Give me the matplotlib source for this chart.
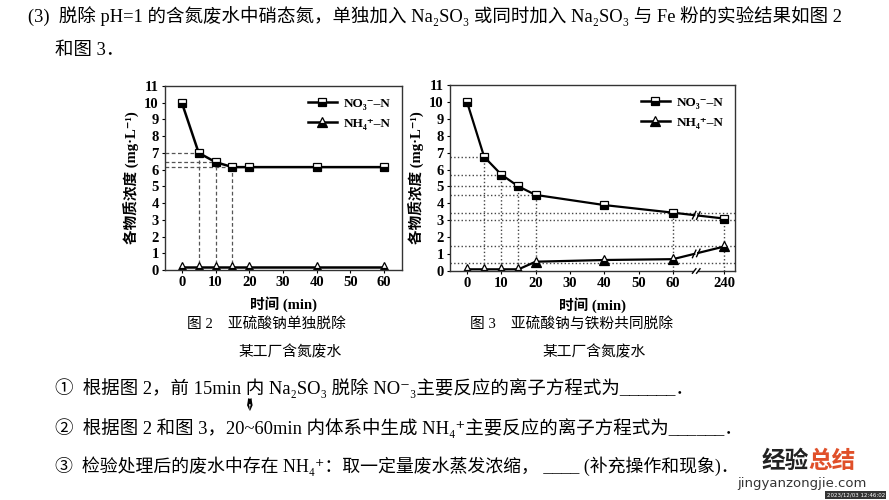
import numpy as np
import matplotlib.pyplot as plt
from matplotlib.transforms import blended_transform_factory

plt.rcParams['font.family'] = ['Liberation Serif', 'Noto Sans CJK SC', 'DejaVu Sans']

# figure 2: Na2SO3 alone
t2 = [0, 5, 10, 15, 20, 40, 60]
no3_2 = [10.0, 7.0, 6.45, 6.15, 6.15, 6.15, 6.15]
nh4_2 = [0.15, 0.15, 0.15, 0.15, 0.15, 0.15, 0.15]
guide2_t = [5, 10, 15]
guide2_y = [7.0, 6.45, 6.15]

# figure 3: Na2SO3 + Fe powder
t3 = [0, 5, 10, 15, 20, 40, 60, 240]
no3_3 = [10.0, 6.75, 5.7, 5.0, 4.5, 3.9, 3.45, 3.1]
nh4_3 = [0.1, 0.1, 0.1, 0.1, 0.55, 0.65, 0.7, 1.45]
guide3_short_y = [6.75, 5.65, 5.0, 4.5]
guide3_short_t = [5, 10, 15, 20]
guide3_full_y = [3.45, 3.0, 1.5, 0.5]
guide3_vert_t = [5, 10, 15, 20, 60, 240]

xticks2 = [0, 10, 20, 30, 40, 50, 60]
xticks3 = [0, 10, 20, 30, 40, 50, 60, 240]
yticks = list(range(0, 12))
legend_labels = ['NO₃⁻–N', 'NH₄⁺–N']

BREAK_POS = 75.0   # where 240 min sits on the broken axis
BREAK_AT = 66.8


def pos(t):
    return np.array([x if x <= 60 else BREAK_POS for x in t], dtype=float)


fig = plt.figure(figsize=(8.89, 5), dpi=100)
fig.patch.set_facecolor('white')

tick_font = dict(fontsize=10.5, fontweight='bold')
lab_font = dict(fontsize=10.5, fontweight='bold')
mk_sq = dict(marker='s', markersize=6, fillstyle='bottom', markerfacecolor='black',
             markerfacecoloralt='white', markeredgecolor='black', markeredgewidth=0.9)
mk_tr = dict(marker='^', markersize=7, fillstyle='bottom', markerfacecolor='black',
             markerfacecoloralt='white', markeredgecolor='black', markeredgewidth=0.9)


def style_axes(ax, xt, xl, xlim, handles):
    ax.set_xlim(*xlim)
    ax.set_ylim(0, 11)
    ax.set_yticks(yticks)
    ax.set_yticklabels([str(v) for v in yticks], **tick_font)
    ax.set_xticks(xt)
    ax.set_xticklabels(xl, **tick_font)
    ax.tick_params(length=2.5, width=0.8, pad=2, direction='out')
    for s in ax.spines.values():
        s.set_linewidth(1.0)
        s.set_color('#333333')
    ax.set_xlabel('时间 (min)', labelpad=5, **lab_font)
    ax.set_ylabel('各物质浓度 (mg·L⁻¹)', labelpad=3, **lab_font)
    leg = ax.legend(handles=handles, labels=legend_labels, loc='upper right',
                    frameon=False, fontsize=9.5, handlelength=2.2, handletextpad=0.5,
                    labelspacing=0.55, borderaxespad=0.5)
    for txt in leg.get_texts():
        txt.set_fontweight('bold')


# ---- figure 2 ----
ax2 = fig.add_axes([0.1856, 0.46, 0.2666, 0.368])
for t, y in zip(guide2_t, guide2_y):
    ax2.plot([-5, t], [y, y], '--', color='#555555', lw=0.9, dashes=(3, 2))
    ax2.plot([t, t], [0, y], '--', color='#555555', lw=0.9, dashes=(3, 2))
h1, = ax2.plot(t2, no3_2, 'k-', lw=1.8, **mk_sq)
h2, = ax2.plot(t2, nh4_2, 'k-', lw=1.8, **mk_tr)
style_axes(ax2, xticks2, [str(v) for v in xticks2], (-5, 65.3), [h1, h2])

# ---- figure 3 ----
ax3 = fig.add_axes([0.5062, 0.458, 0.3206, 0.372])
for t, y in zip(guide3_short_t, guide3_short_y):
    ax3.plot([-5, t], [y, y], ':', color='#444444', lw=1.0)
for y in guide3_full_y:
    ax3.plot([-5, 79], [y, y], ':', color='#444444', lw=1.0)
for t in guide3_vert_t:
    yv = max(no3_3[t3.index(t)], nh4_3[t3.index(t)])
    ax3.plot([pos([t])[0]] * 2, [0, yv], ':', color='#444444', lw=1.0)

px = pos(t3)
gap = 0.6
handles3 = []
for series, mk in [(no3_3, mk_sq), (nh4_3, mk_tr)]:
    ys = np.array(series)
    # line with a break between 60 and 240
    xa = np.append(px[:-1], BREAK_AT - gap)
    ya = np.append(ys[:-1], np.interp(BREAK_AT - gap, px, ys))
    xb = np.array([BREAK_AT + gap, px[-1]])
    yb = np.array([np.interp(BREAK_AT + gap, px, ys), ys[-1]])
    ax3.plot(xa, ya, 'k-', lw=1.6)
    ax3.plot(xb, yb, 'k-', lw=1.6)
    for xc in (BREAK_AT - gap, BREAK_AT + gap):
        yc = np.interp(xc, px, ys)
        ax3.plot([xc - 0.5, xc + 0.5], [yc - 0.22, yc + 0.22], 'k-', lw=1.0)
    ax3.plot(px, ys, linestyle='none', **mk)
    # proxy for the legend (line + marker)
    hp, = ax3.plot([], [], 'k-', lw=1.8, **mk)
    handles3.append(hp)
style_axes(ax3, pos(xticks3), [str(v) for v in xticks3], (-4.95, 78.1), handles3)

# axis break on x axis
tr = blended_transform_factory(ax3.transData, ax3.transAxes)
ax3.add_patch(plt.Rectangle((BREAK_AT - gap, -0.01), 2 * gap, 0.02, transform=tr,
                            facecolor='white', edgecolor='none', clip_on=False, zorder=5))
for xc in (BREAK_AT - gap, BREAK_AT + gap):
    ax3.plot([xc - 0.5, xc + 0.5], [-0.012, 0.012], 'k-', lw=1.0, transform=tr,
             clip_on=False, zorder=6)

# ---- page text ----
fig.text(28 / 889, 1 - 17 / 500,
         '(3)  脱除 pH=1 的含氮废水中硝态氮，单独加入 Na₂SO₃ 或同时加入 Na₂SO₃ 与 Fe 粉的实验结果如图 2',
         fontsize=13.3, va='center', ha='left')
fig.text(55 / 889, 1 - 50 / 500, '和图 3．', fontsize=13.3, va='center', ha='left')

cap = 10.6
fig.text(266 / 889, 1 - 325 / 500, '图 2    亚硫酸钠单独脱除', fontsize=cap, va='center', ha='center')
fig.text(290 / 889, 1 - 352 / 500, '某工厂含氮废水', fontsize=cap, va='center', ha='center')
fig.text(572 / 889, 1 - 325 / 500, '图 3    亚硫酸钠与铁粉共同脱除', fontsize=cap, va='center', ha='center')
fig.text(594 / 889, 1 - 352 / 500, '某工厂含氮废水', fontsize=cap, va='center', ha='center')

fs = 13.3
fig.text(55 / 889, 1 - 388 / 500,
         '①  根据图 2，前 15min 内 Na₂SO₃ 脱除 NO⁻₃主要反应的离子方程式为______．',
         fontsize=fs, va='center', ha='left')
fig.text(55 / 889, 1 - 428 / 500,
         '②  根据图 2 和图 3，20~60min 内体系中生成 NH₄⁺主要反应的离子方程式为______．',
         fontsize=fs, va='center', ha='left')
fig.text(55 / 889, 1 - 466 / 500,
         '③  检验处理后的废水中存在 NH₄⁺：取一定量废水蒸发浓缩， ____ (补充操作和现象)．',
         fontsize=12.9, va='center', ha='left')

# pen cursor
fig.text(246 / 889, 1 - 405 / 500, '✒', fontsize=13, rotation=-90, color='black',
         va='center', ha='center', family='DejaVu Sans')

# watermark
fig.text(762 / 889, 1 - 461 / 500, '经验', fontsize=17, fontweight='bold', color='#222222',
         va='center', ha='left', family='Noto Sans CJK SC')
fig.text(808 / 889, 1 - 461 / 500, '总结', fontsize=17, fontweight='bold', color='#e0502a',
         va='center', ha='left', family='Noto Sans CJK SC')
fig.text(737 / 889, 1 - 483 / 500, 'jingyanzongjie.com', fontsize=9.5, color='#333333',
         va='center', ha='left', family='DejaVu Sans')
fig.text(885 / 889, 1 - 495 / 500, '2023/12/03 12:46:02', fontsize=4, color='white',
         va='center', ha='right', family='DejaVu Sans',
         bbox=dict(facecolor='#333333', edgecolor='none', pad=1))

fig.savefig('out.png', dpi=100, facecolor='white')
